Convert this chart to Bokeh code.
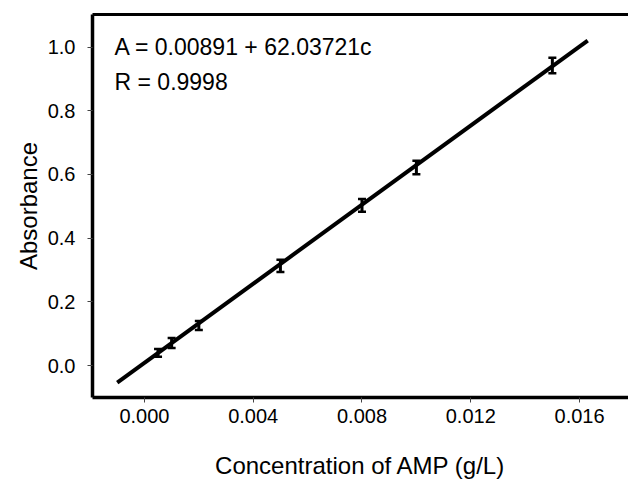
from bokeh.plotting import figure
from bokeh.models import Whisker, ColumnDataSource, LinearAxis, FixedTicker, Label, Range1d
from bokeh.embed import file_html
from bokeh.resources import INLINE

# Data
conc = [0.0005, 0.001, 0.002, 0.005, 0.008, 0.010, 0.015]
absorb = [0.040, 0.071, 0.126, 0.313, 0.503, 0.622, 0.942]
err = [0.012, 0.016, 0.014, 0.019, 0.020, 0.021, 0.024]
intercept = 0.00891
slope = 62.03721
fit_x = [-0.001, 0.0163]
fit_y = [intercept + slope * c for c in fit_x]
x_ticks = [0.000, 0.004, 0.008, 0.012, 0.016]
y_ticks = [0.0, 0.2, 0.4, 0.6, 0.8, 1.0]
eq_text = "A = 0.00891 + 62.03721c"
r_text = "R = 0.9998"
x_title = "Concentration of AMP (g/L)"
y_title = "Absorbance"

FONT = "Liberation Sans"

p = figure(width=628, height=483, output_backend="svg", toolbar_location=None,
           x_range=Range1d(-0.00191, 0.0178), y_range=Range1d(-0.1, 1.102),
           min_border_left=92, min_border_right=0, min_border_top=14, min_border_bottom=86,
           x_axis_label=x_title, y_axis_label=y_title)
p.outline_line_color = None
p.grid.visible = False
p.background_fill_color = "white"
p.border_fill_color = "white"

lower = [a - e for a, e in zip(absorb, err)]
upper = [a + e for a, e in zip(absorb, err)]
src = ColumnDataSource(data=dict(x=conc, y=absorb, lower=lower, upper=upper))

p.line(fit_x, fit_y, line_color="black", line_width=4)

w = Whisker(source=src, base="x", lower="lower", upper="upper", line_color="black", line_width=3)
for h in (w.upper_head, w.lower_head):
    h.size = 8
    h.line_width = 2.5
    h.line_color = "black"
p.add_layout(w)

for ax in (p.xaxis[0], p.yaxis[0]):
    ax.axis_line_width = 3.5
    ax.axis_line_color = "black"
    ax.major_tick_line_color = "#444444"
    ax.major_tick_line_width = 1
    ax.major_tick_in = 0
    ax.major_tick_out = 5
    ax.minor_tick_line_color = None
    ax.major_label_text_font = FONT
    ax.major_label_text_font_size = "20px"
    ax.major_label_text_color = "black"
    ax.axis_label_text_font = FONT
    ax.axis_label_text_font_size = "24px"
    ax.axis_label_text_font_style = "normal"
    ax.axis_label_text_color = "black"

p.xaxis[0].ticker = FixedTicker(ticks=x_ticks)
p.xaxis[0].major_label_overrides = {t: f"{t:.3f}" for t in x_ticks}
p.xaxis[0].major_label_standoff = 6
p.xaxis[0].axis_label_standoff = 26
p.yaxis[0].ticker = FixedTicker(ticks=y_ticks)
p.yaxis[0].major_label_overrides = {t: f"{t:.1f}" for t in y_ticks}
p.yaxis[0].major_label_standoff = 12
p.yaxis[0].axis_label_standoff = 3

top = LinearAxis(ticker=FixedTicker(ticks=[]), axis_line_width=3, axis_line_color="black",
                 major_tick_out=0, major_tick_in=0, minor_tick_out=0, minor_tick_in=0,
                 major_label_text_font_size="0px", major_label_standoff=0)
p.add_layout(top, "above")

p.add_layout(Label(x=-0.0011, y=1.0, text=eq_text, text_font=FONT, text_font_size="23px",
                   text_baseline="middle", text_color="black"))
p.add_layout(Label(x=-0.0011, y=0.89, text=r_text, text_font=FONT, text_font_size="23px",
                   text_baseline="middle", text_color="black"))

open("out.html", "w").write(file_html(p, INLINE))
